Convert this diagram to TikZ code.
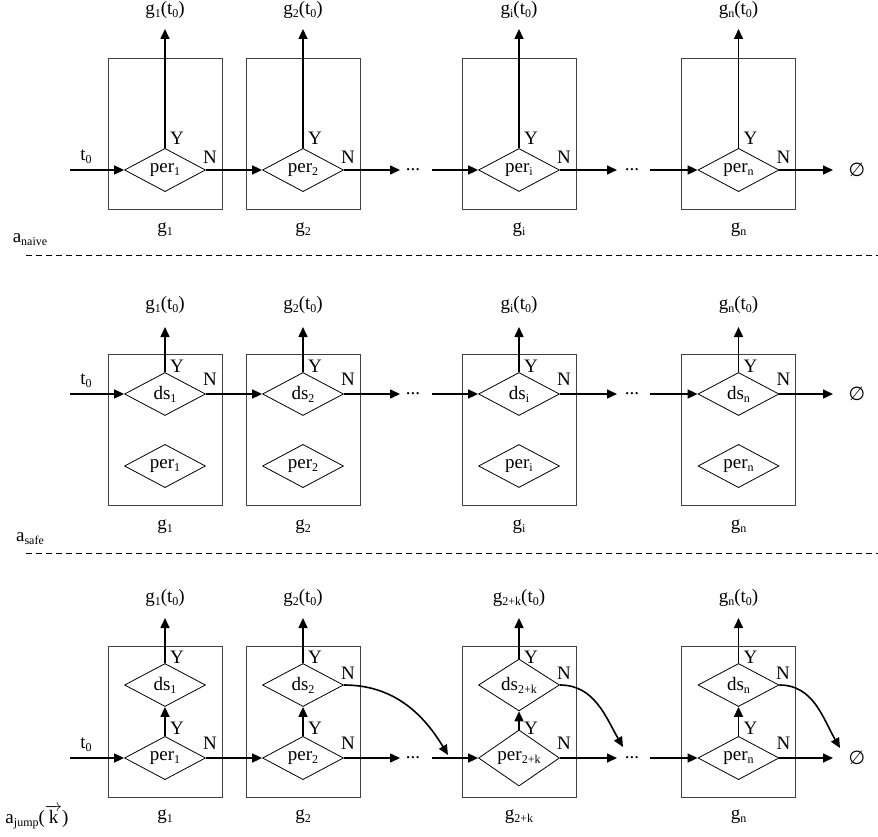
\documentclass[tikz,border=0pt]{standalone}
\usepackage{fontspec}
\setmainfont{Liberation Serif}
\newfontfamily\symf{DejaVu Sans}
\usetikzlibrary{shapes.geometric,arrows.meta}
\newcommand{\sbs}[1]{\raisebox{-3pt}{\fontsize{12}{12}\selectfont #1}}
\begin{document}
\begin{tikzpicture}[x=1pt,y=-1pt,
  font=\fontsize{19}{22}\selectfont,
  dia/.style={diamond,draw,line width=0.8pt,minimum width=81pt,minimum height=43pt,inner sep=0pt},
  gbox/.style={rectangle,draw=black!75,line width=0.9pt,minimum width=114pt,minimum height=151pt,inner sep=0pt},
  arr/.style={line width=1.6pt,-{Triangle[length=10pt,width=9pt]}},
  lbl/.style={inner sep=0pt},
  sepline/.style={line width=0.8pt,dash pattern=on 6pt off 4pt}
]
\useasboundingbox (0,0) rectangle (878,837);

% separators
\coordinate (s1a) at (26,255); \coordinate (s1b) at (878,255);
\draw[sepline] (s1a) -- (s1b);
\coordinate (s2a) at (26,553); \coordinate (s2b) at (878,553);
\draw[sepline] (s2a) -- (s2b);

% ---------------- Row A (naive)
\foreach \cx/\k in {165/1,303/2,519/i,738.5/n} {
  \node[gbox] (bA\k) at (\cx,133.5) {};
  \node[dia] (pA\k) at (\cx,170) {per\sbs{\k}};
  \coordinate (oA\k) at (\cx,29);
  \draw[arr] (pA\k.north) -- (oA\k);
  \node[lbl] (tA\k) at (\cx,10) {g\sbs{\k}(t\sbs{0})};
  \node[lbl] (gA\k) at (\cx,230) {g\sbs{\k}};
  \node[lbl] (yA\k) at (\cx+12,138) {Y};
  \node[lbl] (nA\k) at (\cx+45,157) {N};
}
\node[lbl] (aA) at (30,240) {a\sbs{naive}};
\coordinate (inA) at (70,170); \node[lbl] (t0A) at (86,157) {t\sbs{0}};
\draw[arr] (inA) -- (pA1.west);
\draw[arr] (pA1.east) -- (pA2.west);
\coordinate (d1A) at (400,170); \node[lbl] (dotA1) at (413,170) {...}; \coordinate (d2A) at (432,170);
\draw[arr] (pA2.east) -- (d1A); \draw[arr] (d2A) -- (pAi.west);
\coordinate (d3A) at (617,170); \node[lbl] (dotA2) at (632,170) {...}; \coordinate (d4A) at (650,170);
\draw[arr] (pAi.east) -- (d3A); \draw[arr] (d4A) -- (pAn.west);
\coordinate (eA) at (833,170); \node[lbl] (emA) at (857,170) {\symf ∅};
\draw[arr] (pAn.east) -- (eA);

% ---------------- Row B (safe)
\foreach \cx/\k in {165/1,303/2,519/i,738.5/n} {
  \node[gbox] (bB\k) at (\cx,429.5) {};
  \node[dia] (dB\k) at (\cx,394) {ds\sbs{\k}};
  \node[dia] (pB\k) at (\cx,466) {per\sbs{\k}};
  \coordinate (oB\k) at (\cx,327);
  \draw[arr] (dB\k.north) -- (oB\k);
  \node[lbl] (tB\k) at (\cx,305) {g\sbs{\k}(t\sbs{0})};
  \node[lbl] (gB\k) at (\cx,527) {g\sbs{\k}};
  \node[lbl] (yB\k) at (\cx+12,366) {Y};
  \node[lbl] (nB\k) at (\cx+45,379) {N};
}
\node[lbl] (aB) at (30,539) {a\sbs{safe}};
\coordinate (inB) at (70,394); \node[lbl] (t0B) at (86,381) {t\sbs{0}};
\draw[arr] (inB) -- (dB1.west);
\draw[arr] (dB1.east) -- (dB2.west);
\coordinate (d1B) at (400,394); \node[lbl] (dotB1) at (413,394) {...}; \coordinate (d2B) at (432,394);
\draw[arr] (dB2.east) -- (d1B); \draw[arr] (d2B) -- (dBi.west);
\coordinate (d3B) at (617,394); \node[lbl] (dotB2) at (632,394) {...}; \coordinate (d4B) at (650,394);
\draw[arr] (dBi.east) -- (d3B); \draw[arr] (d4B) -- (dBn.west);
\coordinate (eB) at (833,394); \node[lbl] (emB) at (857,394) {\symf ∅};
\draw[arr] (dBn.east) -- (eB);

% ---------------- Row C (jump)
\foreach \cx/\k/\s in {165/1/1,303/2/2,519/k/2+k,738.5/n/n} {
  \node[gbox] (bC\k) at (\cx,721.5) {};
  \node[dia] (dC\k) at (\cx,685) {ds\sbs{\s}};
  \node[dia] (pC\k) at (\cx,758) {per\sbs{\s}};
  \coordinate (oC\k) at (\cx,618);
  \draw[arr] (dC\k.north) -- (oC\k);
  \draw[arr] (pC\k.north) -- (dC\k.south);
  \node[lbl] (tC\k) at (\cx,598) {g\sbs{\s}(t\sbs{0})};
  \node[lbl] (gC\k) at (\cx,817) {g\sbs{\s}};
  \node[lbl] (yC\k) at (\cx+12,657) {Y};
  \node[lbl] (zC\k) at (\cx+12,728) {Y};
  \node[lbl] (nC\k) at (\cx+45,743) {N};
}
\node[lbl] (nCd2) at (348,673) {N};
\node[lbl] (nCdk) at (564,673) {N};
\node[lbl] (nCdn) at (783,673) {N};
\node[lbl] (aC) at (37,817) {a\sbs{jump}($\overrightarrow{\hbox{k}}$)};
\coordinate (inC) at (70,758); \node[lbl] (t0C) at (86,745) {t\sbs{0}};
\draw[arr] (inC) -- (pC1.west);
\draw[arr] (pC1.east) -- (pC2.west);
\coordinate (d1C) at (400,758); \node[lbl] (dotC1) at (413,758) {...}; \coordinate (d2C) at (432,758);
\draw[arr] (pC2.east) -- (d1C); \draw[arr] (d2C) -- (pCk.west);
\coordinate (d3C) at (617,758); \node[lbl] (dotC2) at (632,758) {...}; \coordinate (d4C) at (650,758);
\draw[arr] (pCk.east) -- (d3C); \draw[arr] (d4C) -- (pCn.west);
\coordinate (eC) at (833,758); \node[lbl] (emC) at (857,758) {\symf ∅};
\draw[arr] (pCn.east) -- (eC);
% jump curves
\coordinate (j1) at (448,755); \coordinate (j2) at (623,747); \coordinate (j3) at (840,748);
\draw[arr] (dC2.east) to[out=0,in=121] (j1);
\draw[arr] (dCk.east) to[out=0,in=120] (j2);
\draw[arr] (dCn.east) to[out=0,in=120] (j3);
\end{tikzpicture}
\end{document}
